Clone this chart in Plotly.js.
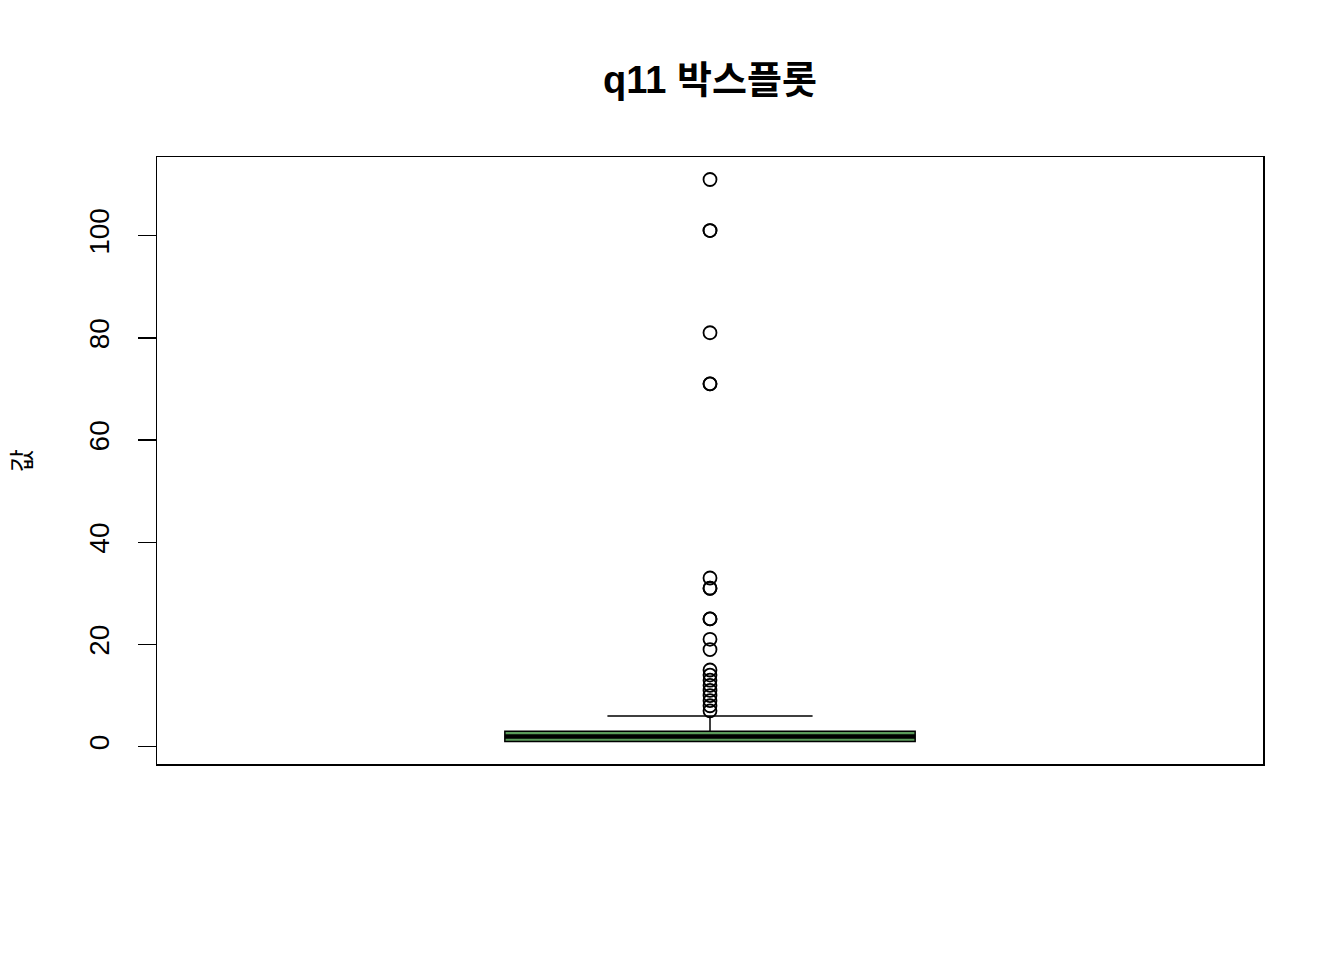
<!DOCTYPE html>
<html>
<head>
<meta charset="utf-8">
<script src="https://cdn.plot.ly/plotly-3.0.1.min.js"></script>
<style>html,body{margin:0;padding:0;background:#fff;}#chart{width:1344px;height:960px;}</style>
</head>
<body>
<div id="chart"></div>
<script>
// Data
var boxPosition = [1];
var q1Values = [1];
var medianValues = [2];
var q3Values = [3];
var lowerFence = [1];
var upperFence = [6];
var outlierValues = [7, 8, 9, 10, 11, 12, 13, 14, 15, 19, 21, 25, 25, 31, 31, 33, 71, 71, 81, 101, 101, 111];
var yTickValues = [0, 20, 40, 60, 80, 100];
var yTickLabels = ['0', '20', '40', '60', '80', '100'];
var chartTitle = 'q11 박스플롯';
var yTitle = '값';

var boxWidth = 0.371;
var fontFamily = '"Liberation Sans", Arial, "Noto Sans CJK KR", sans-serif';

var traces = [
  {
    type: 'box',
    x: boxPosition,
    q1: q1Values,
    median: medianValues,
    q3: q3Values,
    lowerfence: lowerFence,
    upperfence: upperFence,
    boxpoints: false,
    width: boxWidth,
    whiskerwidth: 0.5,
    fillcolor: '#5a9a5a',
    line: {color: '#000000', width: 1.5},
    hoverinfo: 'skip',
    showlegend: false
  },
  {
    type: 'scatter',
    mode: 'lines',
    x: [boxPosition[0] - boxWidth / 2, boxPosition[0] + boxWidth / 2],
    y: [medianValues[0], medianValues[0]],
    line: {color: '#000000', width: 4.5},
    hoverinfo: 'skip',
    showlegend: false
  },
  {
    type: 'scatter',
    mode: 'markers',
    x: outlierValues.map(function () { return boxPosition[0]; }),
    y: outlierValues,
    marker: {symbol: 'circle-open', size: 13, color: '#000000', line: {width: 1.8, color: '#000000'}},
    hoverinfo: 'y',
    showlegend: false
  }
];

var layout = {
  width: 1344,
  height: 960,
  paper_bgcolor: '#ffffff',
  plot_bgcolor: '#ffffff',
  margin: {l: 157, r: 81, t: 157, b: 196},
  font: {family: fontFamily, color: '#000000', size: 24},
  title: {
    text: '<b>' + chartTitle + '</b>',
    font: {family: fontFamily, size: 38, color: '#000000'},
    x: 0.5, xref: 'paper', xanchor: 'center',
    y: 1 - 80 / 960, yref: 'container', yanchor: 'middle'
  },
  xaxis: {
    range: [0.5, 1.5],
    showline: true, mirror: true, linecolor: '#000000', linewidth: 1.5,
    showticklabels: false, ticks: '', showgrid: false, zeroline: false,
    fixedrange: true
  },
  yaxis: {
    range: [-3.4, 115.4],
    showline: true, mirror: true, linecolor: '#000000', linewidth: 1.5,
    ticks: 'outside', ticklen: 18, tickwidth: 1.5, tickcolor: '#000000',
    tickvals: yTickValues, ticktext: yTickLabels, tickangle: -90,
    tickfont: {size: 28, family: fontFamily},
    ticklabelstandoff: 17,
    showgrid: false, zeroline: false,
    title: {text: yTitle, font: {size: 25, family: fontFamily}, standoff: 45},
    fixedrange: true
  }
};

Plotly.newPlot('chart', traces, layout, {displayModeBar: false, staticPlot: true});
</script>
</body>
</html>
